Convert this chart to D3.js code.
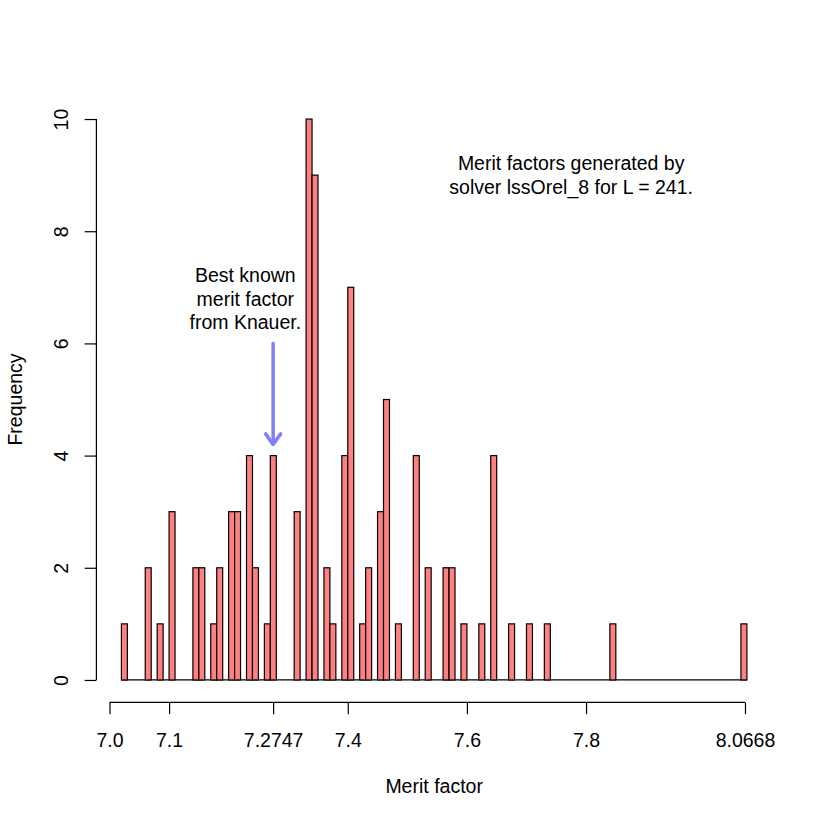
<!DOCTYPE html>
<html>
<head>
<meta charset="utf-8">
<script src="https://cdn.jsdelivr.net/npm/d3@7"></script>
<style>
  html, body { margin: 0; padding: 0; background: #ffffff; }
  text { font-family: "Liberation Sans", Arial, Helvetica, sans-serif; fill: #000; }
</style>
</head>
<body>
<svg id="chart" width="822" height="822"></svg>
<script>
// ---- data ----
const binLefts = [7.02, 7.06, 7.08, 7.10, 7.14, 7.15, 7.17, 7.18, 7.20, 7.21,
                  7.23, 7.24, 7.26, 7.27, 7.31, 7.33, 7.34, 7.36, 7.37, 7.39,
                  7.40, 7.42, 7.43, 7.45, 7.46, 7.48, 7.51, 7.53, 7.56, 7.57,
                  7.59, 7.62, 7.64, 7.67, 7.70, 7.73, 7.84, 8.06];
const counts   = [1, 2, 1, 3, 2, 2, 1, 2, 3, 3,
                  4, 2, 1, 4, 3, 10, 9, 2, 1, 4,
                  7, 1, 2, 3, 5, 1, 4, 2, 2, 2,
                  1, 1, 4, 1, 1, 1, 1, 1];
const binWidth = 0.01;
const histRange = [7.02, 8.07];
const xTickValues = [7.0, 7.1, 7.2747, 7.4, 7.6, 7.8, 8.0668];
const xTickLabels = ["7.0", "7.1", "7.2747", "7.4", "7.6", "7.8", "8.0668"];
const yTickValues = [0, 2, 4, 6, 8, 10];
const xTitle = "Merit factor";
const yTitle = "Frequency";
const noteTop = ["Merit factors generated by", "solver lssOrel_8 for L = 241."];
const noteTopPos = [7.775, 9.0];
const noteBest = ["Best known", "merit factor", "from Knauer."];
const noteBestPos = [7.228, 6.8];
const bestKnown = 7.2747;
const arrowFromTo = [6.0, 4.2];

// ---- layout ----
const fs = 19.5;
const svg = d3.select("#chart");
const x = d3.scaleLinear().domain([6.978, 8.112]).range([96.4, 771.9]);
const y = d3.scaleLinear().domain([-0.4, 10.4]).range([702.4, 96.6]);

// histogram baseline (zero-count bins)
svg.append("line")
  .attr("x1", x(histRange[0])).attr("x2", x(histRange[1]))
  .attr("y1", y(0)).attr("y2", y(0))
  .attr("stroke", "#000").attr("stroke-width", 1.2);

// bars
svg.append("g").selectAll("rect")
  .data(binLefts.map((b, i) => ({ b, c: counts[i] })))
  .join("rect")
  .attr("x", d => x(d.b))
  .attr("width", d => x(d.b + binWidth) - x(d.b))
  .attr("y", d => y(d.c))
  .attr("height", d => y(0) - y(d.c))
  .attr("fill", "#FF8080")
  .attr("stroke", "#000")
  .attr("stroke-width", 1.2);

// x axis
const xAxis = d3.axisBottom(x)
  .tickValues(xTickValues)
  .tickFormat((d, i) => xTickLabels[i])
  .tickSize(11.75);
const gx = svg.append("g").attr("transform", `translate(0,${y.range()[0]})`).call(xAxis);
gx.select(".domain").remove();
gx.append("line")
  .attr("x1", x(xTickValues[0])).attr("x2", x(xTickValues[xTickValues.length - 1]))
  .attr("y1", 0).attr("y2", 0).attr("stroke", "#000").attr("stroke-width", 1.2);
gx.selectAll(".tick line").attr("stroke", "#000").attr("stroke-width", 1.2);
gx.selectAll(".tick text")
  .attr("y", 44.6).attr("dy", null)
  .style("font-size", fs + "px")
  .style("font-family", '"Liberation Sans", Arial, sans-serif')
  .attr("fill", "#000");

// y axis
const yAxis = d3.axisLeft(y).tickValues(yTickValues).tickFormat(d3.format("d")).tickSize(11.75);
const gy = svg.append("g").attr("transform", `translate(${x.range()[0]},0)`).call(yAxis);
gy.select(".domain").remove();
gy.append("line")
  .attr("x1", 0).attr("x2", 0)
  .attr("y1", y(yTickValues[0])).attr("y2", y(yTickValues[yTickValues.length - 1]))
  .attr("stroke", "#000").attr("stroke-width", 1.2);
gy.selectAll(".tick line").attr("stroke", "#000").attr("stroke-width", 1.2);
gy.selectAll(".tick text")
  .attr("x", null).attr("dy", null)
  .attr("text-anchor", "middle")
  .attr("transform", "translate(-28.4,0) rotate(-90)")
  .style("font-size", fs + "px")
  .style("font-family", '"Liberation Sans", Arial, sans-serif')
  .attr("fill", "#000");

// axis titles
svg.append("text")
  .attr("x", (x.range()[0] + x.range()[1]) / 2)
  .attr("y", 793)
  .attr("text-anchor", "middle")
  .style("font-size", fs + "px")
  .text(xTitle);
svg.append("text")
  .attr("transform", `translate(22,${(y.range()[0] + y.range()[1]) / 2}) rotate(-90)`)
  .attr("text-anchor", "middle")
  .style("font-size", fs + "px")
  .text(yTitle);

// annotations
function multiText(lines, pos) {
  const lh = 23.5;
  const cy = y(pos[1]);
  const n = lines.length;
  const t = svg.append("text")
    .attr("text-anchor", "middle")
    .style("font-size", fs + "px");
  lines.forEach((s, i) => {
    t.append("tspan")
      .attr("x", x(pos[0]))
      .attr("y", cy + (i - (n - 1) / 2) * lh + 7)
      .text(s);
  });
}
multiText(noteTop, noteTopPos);
multiText(noteBest, noteBestPos);

// arrow
const ax = x(bestKnown), ay0 = y(arrowFromTo[0]), ay1 = y(arrowFromTo[1]);
const arrowColor = "#8080FF";
svg.append("line")
  .attr("x1", ax).attr("x2", ax).attr("y1", ay0).attr("y2", ay1)
  .attr("stroke", arrowColor).attr("stroke-width", 3.5).attr("stroke-linecap", "round");
svg.append("path")
  .attr("d", `M${ax - 7.5},${ay1 - 10.5} L${ax},${ay1} L${ax + 7.5},${ay1 - 10.5}`)
  .attr("fill", "none")
  .attr("stroke", arrowColor).attr("stroke-width", 3.5)
  .attr("stroke-linecap", "round").attr("stroke-linejoin", "round");
</script>
</body>
</html>
